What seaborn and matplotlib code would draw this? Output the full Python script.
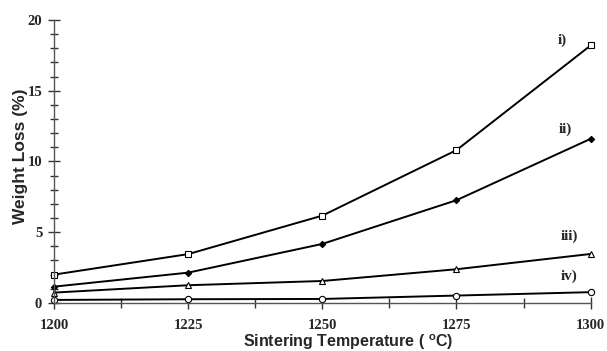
import matplotlib
matplotlib.use("Agg")
import matplotlib.pyplot as plt
import seaborn as sns
import pandas as pd
from matplotlib.ticker import MultipleLocator

sns.set_style("white")

temps = [1200, 1225, 1250, 1275, 1300]
loss_i = [2.0, 3.45, 6.17, 10.8, 18.2]
loss_ii = [1.15, 2.14, 4.17, 7.26, 11.6]
loss_iii = [0.73, 1.25, 1.55, 2.38, 3.46]
loss_iv = [0.21, 0.26, 0.28, 0.52, 0.76]
series_names = ["i)", "ii)", "iii)", "iv)"]
label_x = [1294.8, 1295.3, 1296.0, 1296.0]
label_y = [18.6, 12.3, 4.7, 1.9]

series = [loss_i, loss_ii, loss_iii, loss_iv]
markers = ["s", "D", "^", "o"]
facecolors = ["white", "black", "white", "white"]
msizes = [4.5, 3.2, 4.5, 4.5]

fig = plt.figure(figsize=(6.07, 3.51), dpi=100)
ax = fig.add_axes([0.089, 0.137, 0.884, 0.806])

for name, vals, mk, fc, ms in zip(series_names, series, markers, facecolors, msizes):
    df = pd.DataFrame({"T": temps, "W": vals})
    sns.lineplot(data=df, x="T", y="W", ax=ax, color="black", linewidth=1.4,
                 marker=mk, markersize=ms, markerfacecolor=fc,
                 markeredgecolor="black", markeredgewidth=0.8, clip_on=False)

serif_bold = dict(family="Liberation Serif", fontweight="bold", fontsize=11)
for name, lx, ly in zip(series_names, label_x, label_y):
    ax.text(lx, ly, name, ha="center", va="center", **serif_bold)

ax.set_xlim(1200, 1300)
ax.set_ylim(0, 20)
ax.xaxis.set_major_locator(MultipleLocator(25))
ax.xaxis.set_minor_locator(MultipleLocator(12.5))
ax.yaxis.set_major_locator(MultipleLocator(5))
ax.yaxis.set_minor_locator(MultipleLocator(1))

for s in ["top", "right"]:
    ax.spines[s].set_visible(False)
for s in ["left", "bottom"]:
    ax.spines[s].set_color("#555555")
    ax.spines[s].set_linewidth(1.0)

ax.tick_params(which="both", bottom=True, left=True, top=False, right=False)
ax.tick_params(axis="y", which="major", direction="inout", length=9, width=1.0,
               color="#333333", pad=4)
ax.tick_params(axis="y", which="minor", direction="inout", length=6, width=1.0,
               color="#333333")
ax.tick_params(axis="x", which="major", direction="inout", length=9, width=1.0,
               color="#333333", pad=7)
ax.tick_params(axis="x", which="minor", direction="inout", length=7, width=1.0,
               color="#333333")
ax.tick_params(axis="both", labelsize=10.5)
for lbl in ax.get_xticklabels() + ax.get_yticklabels():
    lbl.set_family("Liberation Serif")
    lbl.set_fontweight("bold")

ax.set_xlabel("Sintering Temperature ( $\\mathregular{^o}$C)", family="Liberation Sans",
              fontweight="bold", fontsize=11.5, va="center")
ax.xaxis.set_label_coords(0.548, -0.14)
ax.set_ylabel("Weight Loss (%)", family="Liberation Sans", fontweight="bold",
              fontsize=12.5, va="center")
ax.yaxis.set_label_coords(-0.062, 0.52)

fig.savefig("out.png", dpi=100)
